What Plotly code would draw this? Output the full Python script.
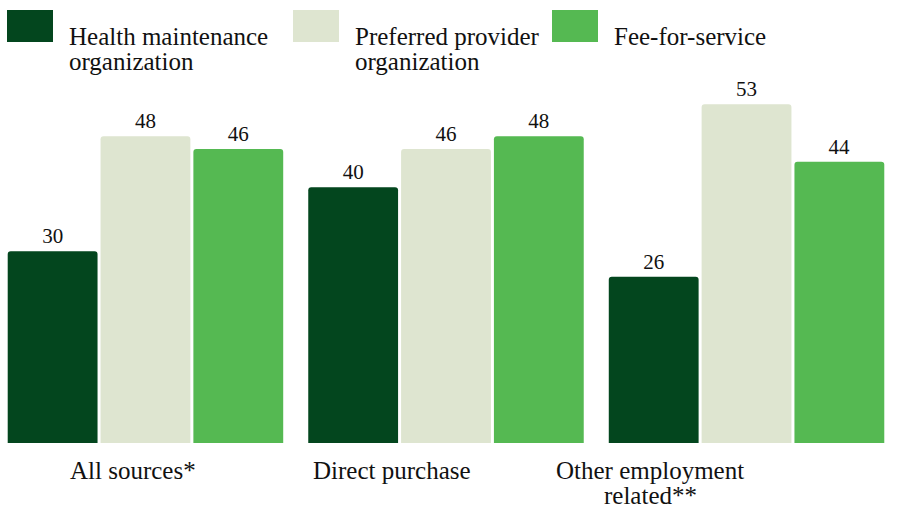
import plotly.graph_objects as go

# ---- data ----
categories = ["All sources*", "Direct purchase", "Other employment<br>related**"]
series_names = ["Health maintenance<br>organization", "Preferred provider<br>organization", "Fee-for-service"]
hmo = [30, 40, 26]
ppo = [48, 46, 53]
ffs = [46, 48, 44]
colors = ["#03461E", "#DEE5D0", "#55B952"]

W, H = 898, 505
ML, MR, MT, MB = 0, 0, 80, 62
FONT = "Liberation Serif, Times New Roman, serif"


def px_x(px):
    return px / (W - ML - MR)


def px_y(py):
    return (H - MB - py) / (H - MT - MB)


fig = go.Figure()
for name, vals, col in zip(series_names, [hmo, ppo, ffs], colors):
    fig.add_trace(go.Bar(
        x=list(range(len(categories))), y=vals, name=name,
        marker=dict(color=col, line=dict(width=0), cornerradius=3),
        text=[str(v) for v in vals], textposition="outside",
        textfont=dict(family=FONT, size=21, color="#111111"),
        cliponaxis=False, showlegend=False, hoverinfo="skip",
    ))

# legend drawn as shapes + text
legend_swatch_x = [(7, 53), (293, 339), (552, 598)]
legend_text_x = [67, 353, 612]
shapes = []
annotations = []
for (x0, x1), tx, name, col in zip(legend_swatch_x, legend_text_x, series_names, colors):
    shapes.append(dict(type="rect", xref="paper", yref="paper",
                       x0=px_x(x0), x1=px_x(x1), y0=px_y(42), y1=px_y(10),
                       fillcolor=col, line=dict(width=0), layer="above"))
    for i, line in enumerate(name.split("<br>")):
        annotations.append(dict(text=line, xref="paper", yref="paper",
                                x=px_x(tx), y=px_y(36 + 26 * i),
                                xanchor="left", yanchor="middle", showarrow=False,
                                font=dict(family=FONT, size=25, color="#111111")))

# category labels
cat_centers = [133, 392, 650]
for cx, cat in zip(cat_centers, categories):
    for i, line in enumerate(cat.split("<br>")):
        annotations.append(dict(text=line, xref="paper", yref="paper",
                                x=px_x(cx), y=px_y(470.5 + 25 * i),
                                xanchor="center", yanchor="middle", showarrow=False,
                                font=dict(family=FONT, size=25, color="#111111")))

fig.update_layout(
    width=W, height=H,
    margin=dict(l=ML, r=MR, t=MT, b=MB, pad=0, autoexpand=False),
    barmode="group", bargap=0.0733, bargroupgap=0.0324,
    plot_bgcolor="white", paper_bgcolor="white",
    xaxis=dict(range=[-0.484, 2.504], showticklabels=False, showgrid=False,
               zeroline=False, showline=False, ticks=""),
    yaxis=dict(range=[0, 56.8], showticklabels=False, showgrid=False,
               zeroline=False, showline=False, ticks=""),
    shapes=shapes, annotations=annotations,
    font=dict(family=FONT),
)

fig.write_html("out.html", config={"displayModeBar": False},
               post_script="document.body.style.margin='0';document.body.style.padding='0';")
